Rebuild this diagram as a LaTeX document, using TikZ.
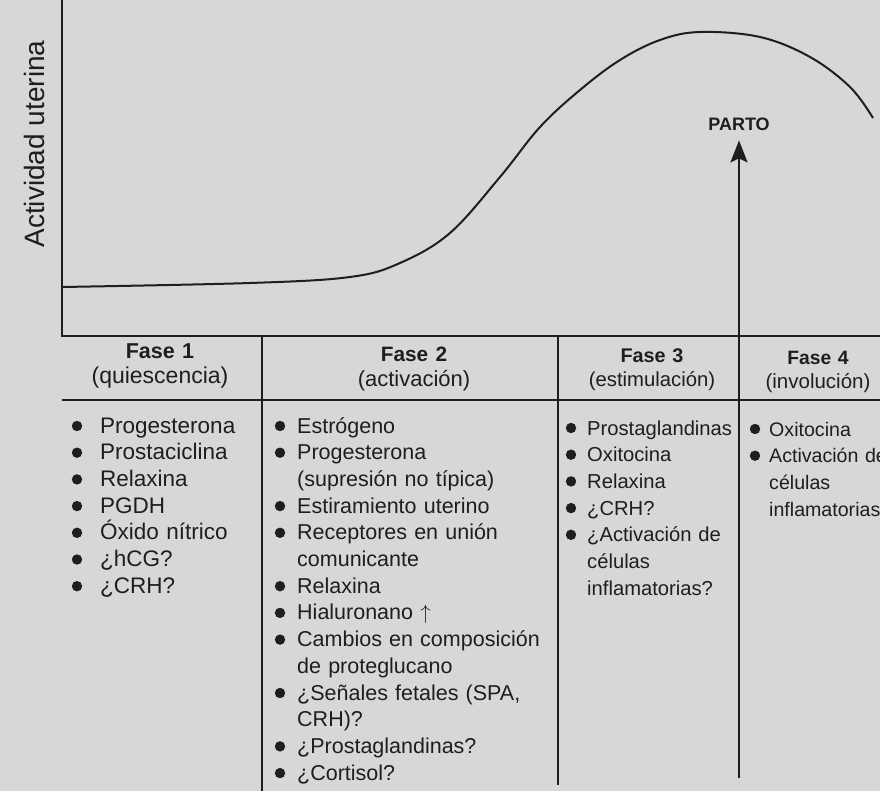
\documentclass[tikz,border=0pt]{standalone}
\usepackage{fontspec}
\setmainfont{Liberation Sans}
\usepackage{xcolor}
\usepackage{tikz}
\usetikzlibrary{shapes,calc,positioning,arrows.meta}
\definecolor{pagebg}{RGB}{213,216,214}
\definecolor{ink}{RGB}{30,30,30}
\newlength{\bgap}
\setlength{\bgap}{11pt}
\newcommand{\fs}[1]{\fontsize{#1}{26.7}\selectfont}
\newcommand{\bul}{\leavevmode\llap{\tikz[baseline=0pt]\fill[ink] (0pt,7pt) circle[radius=5.2pt];\hspace{\bgap}}}

\begin{document}
\begin{tikzpicture}[x=1pt,y=-1pt]
\tikzstyle{ax}=[line width=2.6pt,draw=ink]
\tikzstyle{rule}=[line width=2.3pt,draw=ink]
\tikzstyle{hd}=[draw=none,text centered,text width=190pt,inner sep=0pt,anchor=base,text=ink]
\tikzstyle{col}=[draw=none,align=left,text width=300pt,inner sep=0pt,anchor=base west,text=ink]
\useasboundingbox (0,0) rectangle (880,791);
\clip (0,0) rectangle (880,791);
\fill[pagebg] (0,0) rectangle (880,791);
% ejes
\coordinate (ytop) at (62,-3);
\coordinate (o) at (62,336);
\coordinate (xend) at (883,336);
\draw[ax] (ytop) -- (o) -- (xend);
\node[draw=none,rotate=90,anchor=base,inner sep=0pt,text=ink,font=\fontsize{28}{30}\selectfont] (ylab) at (44,144) {Actividad uterina};
% curva
\draw[line width=2pt,draw=ink] plot[smooth,tension=0.6] coordinates {(62,287) (250,283) (350,277) (400,263) (450,233) (500,177) (540,127) (580,90) (620,60) (660,40) (700,32) (760,37) (810,57) (850,87) (873,118)};
% tabla
\coordinate (h1) at (62,400);
\coordinate (h2) at (883,400);
\draw[rule] (h1) -- (h2);
\coordinate (d1t) at (262,336);
\coordinate (d1b) at (262,794);
\coordinate (d2t) at (558,336);
\coordinate (d2b) at (558,785);
\draw[rule] (d1t) -- (d1b);
\draw[rule] (d2t) -- (d2b);
\node[hd,font=\fontsize{22}{25}\selectfont] (f1) at (160,358) {{\bfseries\fontsize{21.5}{25}\selectfont Fase 1}\\{\fontsize{23}{25}\selectfont (quiescencia)}};
\node[hd,font=\fontsize{22}{25}\selectfont] (f2) at (414,361) {{\bfseries\fontsize{20.8}{25}\selectfont Fase 2}\\{\fontsize{22}{25}\selectfont (activación)}};
\node[hd,font=\fontsize{20}{24}\selectfont] (f3) at (652,362) {{\bfseries\fontsize{19.8}{24}\selectfont Fase 3}\\{\fontsize{20.3}{24}\selectfont (estimulación)}};
\node[hd,font=\fontsize{20}{24}\selectfont] (f4) at (818,364) {{\bfseries\fontsize{19.3}{24}\selectfont Fase 4}\\{\fontsize{20.5}{24}\selectfont (involución)}};
% listas
\node[col,font=\fs{22.5}] (c1) at (100,433) {\setlength{\bgap}{18pt}%
\bul Progesterona\\ \bul Prostaciclina\\ \bul Relaxina\\ \bul PGDH\\
\bul Óxido nítrico\\ \bul ¿hCG?\\ \bul ¿CRH?};
\node[col,font=\fs{21.5}] (c2) at (297,433) {\setlength{\bgap}{12pt}%
\bul Estrógeno\\ \bul Progesterona\\ (supresión no típica)\\
\bul Estiramiento uterino\\ \bul Receptores en unión\\ comunicante\\
\bul Relaxina\\ \bul Hialuronano $\uparrow$\\ \bul Cambios en composición\\
de proteglucano\\ \bul ¿Señales fetales (SPA,\\ CRH)?\\
\bul ¿Prostaglandinas?\\ \bul ¿Cortisol?};
\node[col,font=\fs{20.2}] (c3) at (587,435) {\setlength{\bgap}{11pt}%
\bul Prostaglandinas\\ \bul Oxitocina\\ \bul Relaxina\\ \bul ¿CRH?\\
\bul ¿Activación de\\ células\\ inflamatorias?};
\node[col,font=\fs{19.6}] (c4) at (769,436) {\setlength{\bgap}{9pt}%
\bul Oxitocina\\ \bul Activación de\\ células\\ inflamatorias};
% parto
\node[draw=none,inner sep=0pt,anchor=base,text=ink,font=\bfseries\fontsize{18}{20}\selectfont] (parto) at (739,131) {PARTO};
\coordinate (pb) at (739,778);
\draw[line width=2.4pt,draw=ink,fill=ink,-{Stealth[length=22pt,width=17pt,inset=4pt]},shorten >=9pt] (pb) -- (parto.south);
\end{tikzpicture}
\end{document}
